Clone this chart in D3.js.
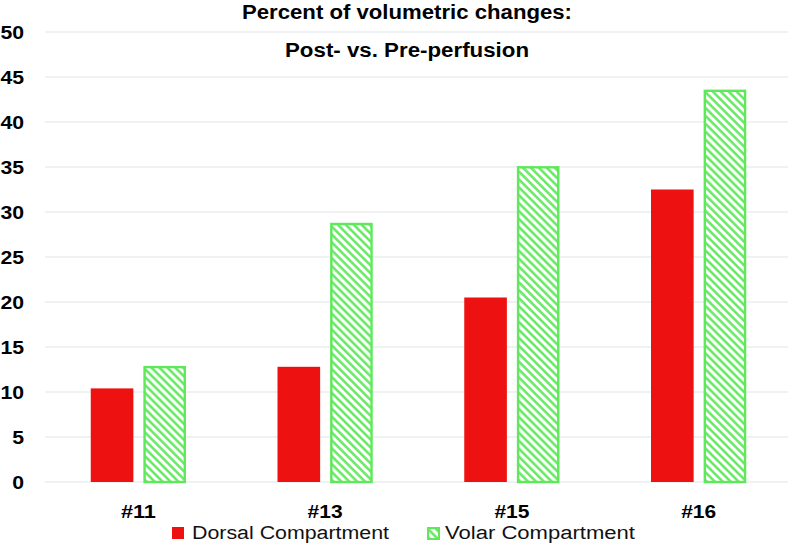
<!DOCTYPE html>
<html><head><meta charset="utf-8">
<script src="https://cdn.jsdelivr.net/npm/d3@7"></script>
<style>body{margin:0;background:#fff}svg{display:block}</style>
</head><body>
<svg id="chart" width="792" height="546"></svg>
<script>
const categories = ["#11", "#13", "#15", "#16"];
const seriesNames = ["Dorsal Compartment", "Volar Compartment"];
const dorsal = [10.4, 12.8, 20.5, 32.5];
const volar = [12.9, 28.8, 35.1, 43.6];
const yTicks = [0, 5, 10, 15, 20, 25, 30, 35, 40, 45, 50];
const titleLines = ["Percent of volumetric changes:", "Post- vs. Pre-perfusion"];

const W = 792, H = 546;
const margin = {left: 45, right: 0, top: 32, bottom: 64};
const svg = d3.select("#chart");
const FONT = "'Liberation Sans', Arial, sans-serif";
const RED = "#ee1111", GREEN = "#5ee85a";

const defs = svg.append("defs");
const pat = defs.append("pattern").attr("id", "hatch")
  .attr("patternUnits", "userSpaceOnUse").attr("width", 5.6).attr("height", 5.6)
  .attr("patternTransform", "rotate(-45)");
pat.append("rect").attr("width", 5.6).attr("height", 5.6).attr("fill", "#fff");
pat.append("line").attr("x1", 1.4).attr("y1", 0).attr("x2", 1.4).attr("y2", 5.6)
  .attr("stroke", GREEN).attr("stroke-width", 2.4);

const x = d3.scaleBand().domain(categories).range([margin.left, W - margin.right])
  .paddingInner(0.49).paddingOuter(0.245);
const xs = d3.scaleBand().domain(seriesNames).range([0, x.bandwidth()]).paddingInner(0.19);
const y = d3.scaleLinear().domain([0, 50]).range([H - margin.bottom, margin.top]);

// gridlines
svg.append("g").selectAll("line").data(yTicks).join("line")
  .attr("x1", margin.left).attr("x2", W - 4)
  .attr("y1", d => y(d)).attr("y2", d => y(d))
  .attr("stroke", "#dfe5e5").attr("stroke-width", 1);

// y axis labels
const yAxis = d3.axisLeft(y).tickValues(yTicks).tickSize(0).tickPadding(0);
const yg = svg.append("g").attr("transform", `translate(${margin.left - 21},0)`).call(yAxis);
yg.select(".domain").remove();
yg.selectAll("text").attr("font-family", FONT).attr("font-weight", "bold")
  .attr("font-size", 17.5).attr("fill", "#000").attr("dy", "0.36em")
  .attr("textLength", d => String(d).length * 11.8).attr("lengthAdjust", "spacingAndGlyphs");

// x axis labels
const xAxis = d3.axisBottom(x).tickSize(0).tickPadding(0);
const xg = svg.append("g").attr("transform", `translate(0,${y(0) + 23})`).call(xAxis);
xg.select(".domain").remove();
xg.selectAll("text").attr("font-family", FONT).attr("font-weight", "bold")
  .attr("font-size", 18).attr("fill", "#000").attr("dy", "0.71em")
  .attr("textLength", 35).attr("lengthAdjust", "spacingAndGlyphs");

const rows = categories.map((c, i) => ({c, vals: [dorsal[i], volar[i]]}));
const groups = svg.append("g").selectAll("g").data(rows).join("g")
  .attr("transform", d => `translate(${x(d.c)},0)`);
// dorsal bars
groups.append("rect")
  .attr("x", xs(seriesNames[0])).attr("width", xs.bandwidth())
  .attr("y", d => y(d.vals[0])).attr("height", d => y(0) - y(d.vals[0]))
  .attr("fill", RED);
// volar bars
groups.append("rect")
  .attr("x", xs(seriesNames[1]) + 1.2).attr("width", xs.bandwidth() - 2.4)
  .attr("y", d => y(d.vals[1]) + 1.2).attr("height", d => y(0) - y(d.vals[1]) - 1.2)
  .attr("fill", "url(#hatch)").attr("stroke", GREEN).attr("stroke-width", 2.4);

// title
const titleSpec = [{y: 18.5, len: 330}, {y: 57, len: 244}];
svg.append("g").selectAll("text").data(titleLines).join("text")
  .attr("x", 407).attr("y", (d, i) => titleSpec[i].y)
  .attr("text-anchor", "middle").attr("font-family", FONT).attr("font-weight", "bold")
  .attr("font-size", 20).attr("fill", "#000")
  .attr("textLength", (d, i) => titleSpec[i].len).attr("lengthAdjust", "spacingAndGlyphs")
  .text(d => d);

// legend
const legend = [
  {name: seriesNames[0], sx: 172, tx: 192, len: 197},
  {name: seriesNames[1], sx: 427, tx: 445, len: 190}
];
const lg = svg.append("g");
lg.append("rect").attr("x", legend[0].sx).attr("y", 527).attr("width", 12).attr("height", 12).attr("fill", RED);
lg.append("rect").attr("x", legend[1].sx + 1).attr("y", 528).attr("width", 11).attr("height", 11)
  .attr("fill", "url(#hatch)").attr("stroke", GREEN).attr("stroke-width", 2);
lg.selectAll("text").data(legend).join("text")
  .attr("x", d => d.tx).attr("y", 539).attr("font-family", FONT).attr("font-size", 18)
  .attr("textLength", d => d.len).attr("lengthAdjust", "spacingAndGlyphs")
  .attr("fill", "#111").text(d => d.name);
</script>
</body></html>
